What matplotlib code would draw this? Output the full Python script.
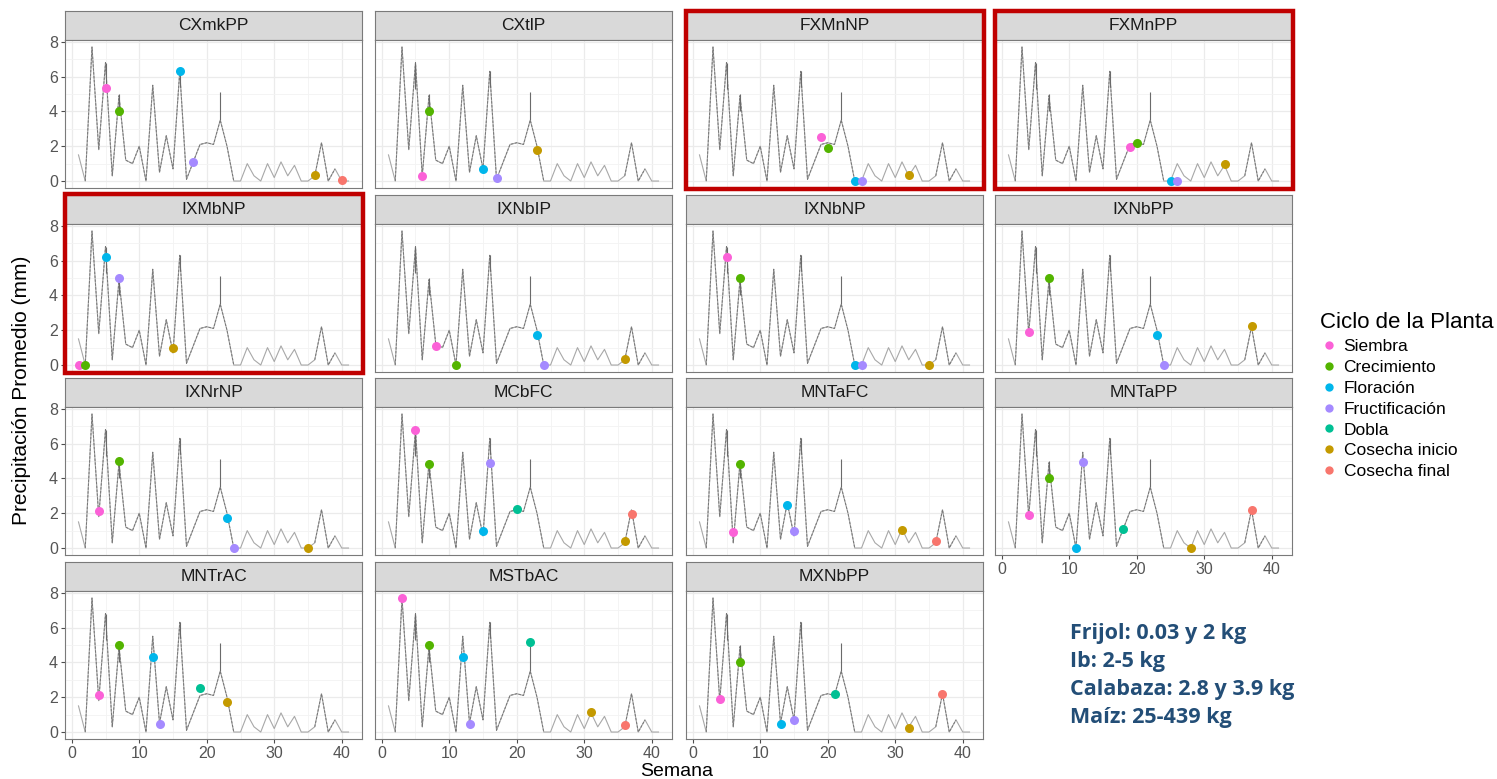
import numpy as np
import matplotlib.pyplot as plt
from matplotlib.lines import Line2D
from matplotlib.patches import Rectangle

plt.rcParams['font.family'] = ['Liberation Sans', 'DejaVu Sans']

# weekly average precipitation (same series in every panel)
weeks = np.arange(1, 42)
precip = [1.5, 0.0, 7.7, 1.8, 6.8, 0.3, 4.9, 1.2, 1.0, 2.0,
          0.0, 5.5, 0.5, 2.6, 0.7, 6.3, 0.1, 1.1, 2.1, 2.2,
          2.1, 3.5, 2.0, 0.0, 0.0, 1.0, 0.3, 0.0, 1.0, 0.2,
          1.1, 0.3, 0.9, 0.0, 0.0, 0.3, 2.2, 0.0, 0.7, 0.0, 0.0]
# dashed stretches of the series (first week, last week)
dash_start = [2, 36]
dash_end = [24, 39]
# short vertical jumps (several values in the same week)
spike_weeks = [5, 7, 16, 22]
spike_lo = [5.3, 4.0, 5.4, 3.5]
spike_hi = [6.8, 5.0, 6.3, 5.1]

panels = ['CXmkPP', 'CXtlP', 'FXMnNP', 'FXMnPP',
          'IXMbNP', 'IXNbIP', 'IXNbNP', 'IXNbPP',
          'IXNrNP', 'MCbFC', 'MNTaFC', 'MNTaPP',
          'MNTrAC', 'MSTbAC', 'MXNbPP']
highlight = ['FXMnNP', 'FXMnPP', 'IXMbNP']

nan = np.nan
siembra_w = [5, 6, 19, 19, 1, 8, 5, 4, 4, 5, 6, 4, 4, 3, 4]
siembra_v = [5.35, 0.3, 2.55, 1.95, 0.0, 1.1, 6.2, 1.9, 2.1, 6.8, 0.9, 1.9, 2.1, 7.7, 1.9]
crec_w = [7, 7, 20, 20, 2, 11, 7, 7, 7, 7, 7, 7, 7, 7, 7]
crec_v = [4.0, 4.0, 1.9, 2.2, 0.0, 0.0, 5.0, 5.0, 5.0, 4.8, 4.8, 4.0, 5.0, 5.0, 4.0]
flor_w = [16, 15, 24, 25, 5, 23, 24, 23, 23, 15, 14, 11, 12, 12, 13]
flor_v = [6.3, 0.7, 0.0, 0.0, 6.2, 1.75, 0.0, 1.75, 1.7, 0.95, 2.5, 0.0, 4.3, 4.3, 0.45]
fruct_w = [18, 17, 25, 26, 7, 24, 25, 24, 24, 16, 15, 12, 13, 13, 15]
fruct_v = [1.1, 0.2, 0.0, 0.0, 5.0, 0.0, 0.0, 0.0, 0.0, 4.9, 0.95, 4.95, 0.45, 0.45, 0.7]
dobla_w = [nan, nan, nan, nan, nan, nan, nan, nan, nan, 20, nan, 18, 19, 22, 21]
dobla_v = [nan, nan, nan, nan, nan, nan, nan, nan, nan, 2.25, nan, 1.1, 2.55, 5.15, 2.2]
cini_w = [36, 23, 32, 33, 15, 36, 35, 37, 35, 36, 31, 28, 23, 31, 32]
cini_v = [0.35, 1.8, 0.35, 0.95, 1.0, 0.35, 0.0, 2.25, 0.0, 0.42, 1.05, 0.0, 1.75, 1.15, 0.25]
cfin_w = [40, nan, nan, nan, nan, nan, nan, nan, nan, 37, 36, 37, nan, 36, 37]
cfin_v = [0.05, nan, nan, nan, nan, nan, nan, nan, nan, 1.95, 0.42, 2.2, nan, 0.42, 2.2]

stage_names = ['Siembra', 'Crecimiento', 'Floración', 'Fructificación',
               'Dobla', 'Cosecha inicio', 'Cosecha final']
stage_colors = ['#FB61D7', '#53B400', '#00B6EB', '#A58AFF',
                '#00C094', '#C49A00', '#F8766D']
stage_w = [siembra_w, crec_w, flor_w, fruct_w, dobla_w, cini_w, cfin_w]
stage_v = [siembra_v, crec_v, flor_v, fruct_v, dobla_v, cini_v, cfin_v]

annot_lines = ['Frijol: 0.03 y 2 kg', 'Ib: 2-5 kg',
               'Calabaza: 2.8 y 3.9 kg', 'Maíz: 25-439 kg']

W, H = 1497, 779
fig = plt.figure(figsize=(W / 100, H / 100), dpi=100)


def box(x, y, w, h):
    return [x / W, 1 - (y + h) / H, w / W, h / H]


col_x = [65, 375, 686, 995]
row_y = [11, 195, 378, 562]
pw, sh, ph = 297, 29, 148
precip = np.array(precip)

for i, name in enumerate(panels):
    r, c = divmod(i, 4)
    x, y = col_x[c], row_y[r]

    st = fig.add_axes(box(x, y, pw, sh))
    st.set_facecolor('#D9D9D9')
    st.set_xticks([])
    st.set_yticks([])
    for s in st.spines.values():
        s.set_color('#7a7a7a')
        s.set_linewidth(0.8)
    st.text(0.5, 0.5, name, ha='center', va='center', fontsize=12.5,
            color='#1A1A1A', transform=st.transAxes)

    ax = fig.add_axes(box(x, y + sh, pw, ph))
    ax.set_xlim(-1, 43)
    ax.set_ylim(-0.4, 8.1)
    ax.set_xticks([0, 10, 20, 30, 40])
    ax.set_xticks([5, 15, 25, 35], minor=True)
    ax.set_yticks([0, 2, 4, 6, 8])
    ax.set_yticks([1, 3, 5, 7], minor=True)
    ax.grid(which='major', color='#EBEBEB', lw=0.9)
    ax.grid(which='minor', color='#F3F3F3', lw=0.6)
    ax.set_axisbelow(True)
    for s in ax.spines.values():
        s.set_color('#7a7a7a')
        s.set_linewidth(0.8)
    ax.tick_params(which='minor', length=0)
    ax.tick_params(which='major', length=3, color='#4D4D4D',
                   labelsize=11.5, labelcolor='#555555', pad=2)
    show_x = (r == 3) or (r == 2 and c == 3)
    if not show_x:
        ax.tick_params(axis='x', length=0, labelbottom=False)
    if c != 0:
        ax.tick_params(axis='y', length=0, labelleft=False)

    ax.plot(weeks, precip, color='#a8a8a8', lw=0.8, zorder=2)
    for a, b in zip(dash_start, dash_end):
        m = (weeks >= a) & (weeks <= b)
        ax.plot(weeks[m], precip[m], color='#777777', lw=0.7,
                ls=(0, (2.5, 1.5)), zorder=3)
    ax.vlines(spike_weeks, spike_lo, spike_hi, color='#6a6a6a', lw=0.8, zorder=3)

    for sw, sv, col in zip(stage_w, stage_v, stage_colors):
        if not np.isnan(sw[i]):
            ax.plot(sw[i], sv[i], 'o', ms=6.5, color=col, mec='none', zorder=5)

    if name in highlight:
        fig.add_artist(Rectangle(((x - 0.5) / W, 1 - (y + sh + ph + 0.5) / H),
                                 (pw + 1) / W, (sh + ph + 1) / H,
                                 transform=fig.transFigure, fill=False,
                                 ec='#C00000', lw=3.2, zorder=10))

fig.text(22 / W, 1 - 390 / H, 'Precipitación Promedio (mm)', rotation=90,
         ha='center', va='center', fontsize=15)
fig.text(677 / W, 1 - 771 / H, 'Semana', ha='center', va='center', fontsize=14)

handles = [Line2D([], [], ls='none', marker='o', ms=6, color=c, mec='none')
           for c in stage_colors]
fig.legend(handles, stage_names, loc='upper left',
           bbox_to_anchor=(1308 / W, 1 - 300 / H), frameon=False,
           title='Ciclo de la Planta', title_fontsize=16, fontsize=12.5,
           alignment='left', handletextpad=0.35, labelspacing=0.33,
           handlelength=1.0, borderpad=0.2)

for k, line in enumerate(annot_lines):
    fig.text(1070 / W, 1 - (634 + 28 * k) / H, line, ha='left', va='center',
             fontsize=15.5, fontweight='bold', color='#234E77',
             family=['Open Sans', 'DejaVu Sans'])

fig.savefig('out.png', dpi=100)
